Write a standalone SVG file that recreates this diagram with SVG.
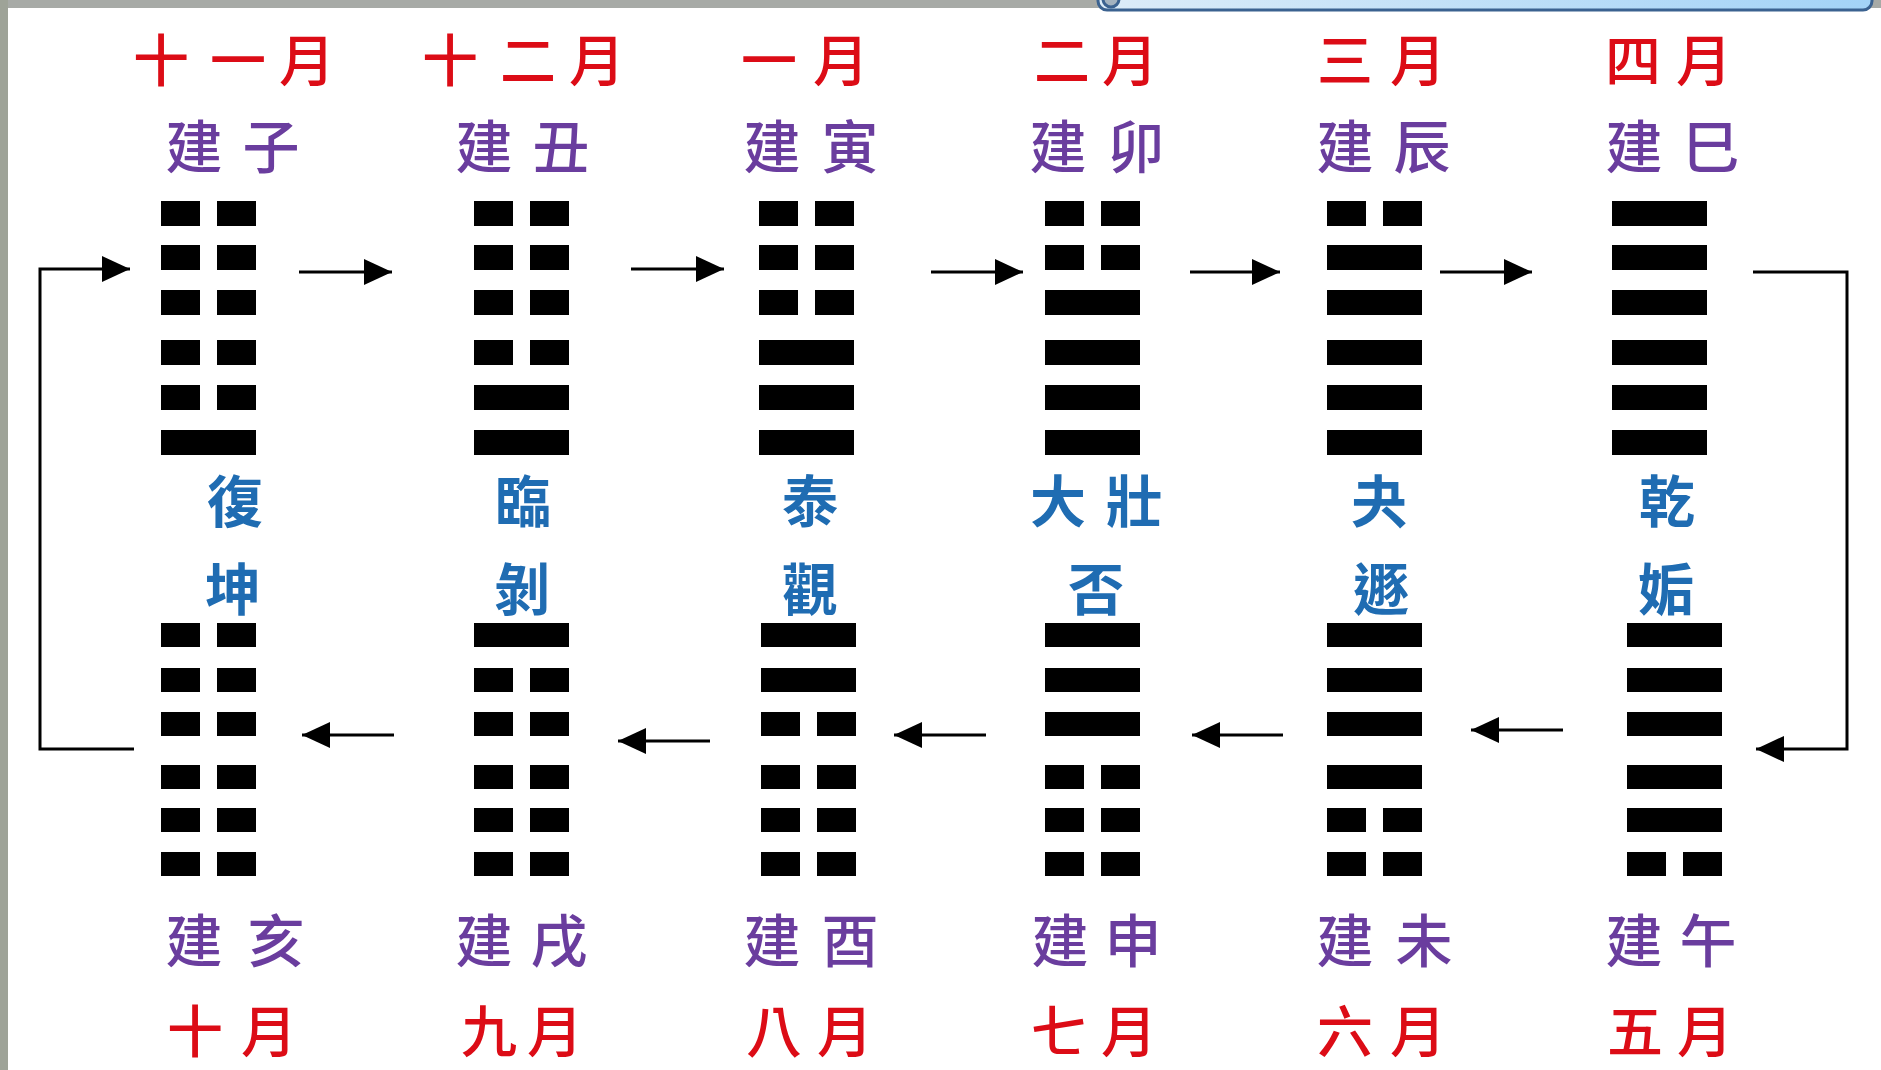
<svg xmlns="http://www.w3.org/2000/svg" width="1881" height="1070" viewBox="0 0 1881 1070">
  <defs>
    <style>
      .month { font-family: "Noto Sans CJK TC", "Noto Sans CJK SC", sans-serif; font-size: 56px; font-weight: 500; fill: #dc0c16; text-anchor: middle; }
      .jian { font-family: "Noto Sans CJK TC", "Noto Sans CJK SC", sans-serif; font-size: 57px; font-weight: 500; fill: #6a3d9e; text-anchor: middle; }
      .gua { font-family: "Noto Sans CJK TC", "Noto Sans CJK SC", sans-serif; font-size: 56px; font-weight: bold; fill: #1f6cb2; text-anchor: middle; }
      .bar { fill: #000; }
      .conn { fill: none; stroke: #000; stroke-width: 3; }
    </style>
    <linearGradient id="boxfill" x1="0" y1="0" x2="1" y2="0">
      <stop offset="0" stop-color="#dcecf8"/>
      <stop offset="1" stop-color="#a3d3f7"/>
    </linearGradient>
    <marker id="ah" markerUnits="userSpaceOnUse" markerWidth="30" markerHeight="28" refX="28" refY="13" orient="auto">
      <path d="M0,0 L28,13 L0,26 z" fill="#000"/>
    </marker>
    <g id="yangT"><rect class="bar" x="0" y="0" width="95" height="25"/></g>
    <g id="yinT"><rect class="bar" x="0" y="0" width="39" height="25"/><rect class="bar" x="56" y="0" width="39" height="25"/></g>
    <g id="yangB"><rect class="bar" x="0" y="0" width="95" height="24"/></g>
    <g id="yinB"><rect class="bar" x="0" y="0" width="39" height="24"/><rect class="bar" x="56" y="0" width="39" height="24"/></g>
  </defs>

  <!-- background -->
  <g id="background">
    <rect x="0" y="0" width="1881" height="1070" fill="#ffffff"/>
    <rect x="0" y="0" width="1881" height="8" fill="#a7aaa6"/>
    <rect x="0" y="0" width="8" height="1070" fill="#9ea398"/>
    <rect x="1098" y="-20" width="774" height="30" rx="9" fill="url(#boxfill)" stroke="#3b6290" stroke-width="3"/>
    <circle cx="1111" cy="-1" r="8" fill="#a3b2bf" stroke="#3b6290" stroke-width="3"/>
  </g>

  <!-- connectors -->
  <g id="connectors">
    <path class="conn" d="M134,749 H40 V269 H130" marker-end="url(#ah)"/>
    <line class="conn" x1="299" y1="272" x2="392" y2="272" marker-end="url(#ah)"/>
    <line class="conn" x1="631" y1="269" x2="724" y2="269" marker-end="url(#ah)"/>
    <line class="conn" x1="931" y1="272" x2="1023" y2="272" marker-end="url(#ah)"/>
    <line class="conn" x1="1190" y1="272" x2="1280" y2="272" marker-end="url(#ah)"/>
    <line class="conn" x1="1440" y1="272" x2="1532" y2="272" marker-end="url(#ah)"/>
    <path class="conn" d="M1753,272 H1847 V749 H1756" marker-end="url(#ah)"/>
    <line class="conn" x1="1563" y1="730" x2="1471" y2="730" marker-end="url(#ah)"/>
    <line class="conn" x1="1283" y1="735" x2="1192" y2="735" marker-end="url(#ah)"/>
    <line class="conn" x1="986" y1="735" x2="894" y2="735" marker-end="url(#ah)"/>
    <line class="conn" x1="710" y1="741" x2="618" y2="741" marker-end="url(#ah)"/>
    <line class="conn" x1="394" y1="735" x2="302" y2="735" marker-end="url(#ah)"/>
  </g>

  <!-- top row -->
  <g id="fu">
    <text class="month" x="161 238 307" y="81">十一月</text>
    <text class="jian" x="194 271" y="168">建子</text>
    <g transform="translate(161,0)">
      <use href="#yinT" y="201"/><use href="#yinT" y="245"/><use href="#yinT" y="290"/>
      <use href="#yinT" y="340"/><use href="#yinT" y="385"/><use href="#yangT" y="430"/>
    </g>
    <text class="gua" x="235" y="522">復</text>
  </g>
  <g id="lin">
    <text class="month" x="450 528 597" y="81">十二月</text>
    <text class="jian" x="484 561" y="168">建丑</text>
    <g transform="translate(474,0)">
      <use href="#yinT" y="201"/><use href="#yinT" y="245"/><use href="#yinT" y="290"/>
      <use href="#yinT" y="340"/><use href="#yangT" y="385"/><use href="#yangT" y="430"/>
    </g>
    <text class="gua" x="523" y="522">臨</text>
  </g>
  <g id="tai">
    <text class="month" x="769 841" y="81">一月</text>
    <text class="jian" x="772 850" y="168">建寅</text>
    <g transform="translate(759,0)">
      <use href="#yinT" y="201"/><use href="#yinT" y="245"/><use href="#yinT" y="290"/>
      <use href="#yangT" y="340"/><use href="#yangT" y="385"/><use href="#yangT" y="430"/>
    </g>
    <text class="gua" x="810" y="522">泰</text>
  </g>
  <g id="dazhuang">
    <text class="month" x="1062 1130" y="81">二月</text>
    <text class="jian" x="1058 1136" y="168">建卯</text>
    <g transform="translate(1045,0)">
      <use href="#yinT" y="201"/><use href="#yinT" y="245"/><use href="#yangT" y="290"/>
      <use href="#yangT" y="340"/><use href="#yangT" y="385"/><use href="#yangT" y="430"/>
    </g>
    <text class="gua" x="1058 1134" y="522">大壯</text>
  </g>
  <g id="guai">
    <text class="month" x="1345 1418" y="81">三月</text>
    <text class="jian" x="1345 1422" y="168">建辰</text>
    <g transform="translate(1327,0)">
      <use href="#yinT" y="201"/><use href="#yangT" y="245"/><use href="#yangT" y="290"/>
      <use href="#yangT" y="340"/><use href="#yangT" y="385"/><use href="#yangT" y="430"/>
    </g>
    <text class="gua" x="1379" y="522">夬</text>
  </g>
  <g id="qian">
    <text class="month" x="1633 1704" y="81">四月</text>
    <text class="jian" x="1634 1711" y="168">建巳</text>
    <g transform="translate(1612,0)">
      <use href="#yangT" y="201"/><use href="#yangT" y="245"/><use href="#yangT" y="290"/>
      <use href="#yangT" y="340"/><use href="#yangT" y="385"/><use href="#yangT" y="430"/>
    </g>
    <text class="gua" x="1667" y="522">乾</text>
  </g>

  <!-- bottom row -->
  <g id="kun">
    <text class="gua" x="233" y="610">坤</text>
    <g transform="translate(161,0)">
      <use href="#yinB" y="623"/><use href="#yinB" y="668"/><use href="#yinB" y="712"/>
      <use href="#yinB" y="765"/><use href="#yinB" y="808"/><use href="#yinB" y="852"/>
    </g>
    <text class="jian" x="194 276" y="962">建亥</text>
    <text class="month" x="195 269" y="1052">十月</text>
  </g>
  <g id="bo">
    <text class="gua" x="522" y="610">剝</text>
    <g transform="translate(474,0)">
      <use href="#yangB" y="623"/><use href="#yinB" y="668"/><use href="#yinB" y="712"/>
      <use href="#yinB" y="765"/><use href="#yinB" y="808"/><use href="#yinB" y="852"/>
    </g>
    <text class="jian" x="484 559" y="962">建戌</text>
    <text class="month" x="489 555" y="1052">九月</text>
  </g>
  <g id="guan">
    <text class="gua" x="810" y="610">觀</text>
    <g transform="translate(761,0)">
      <use href="#yangB" y="623"/><use href="#yangB" y="668"/><use href="#yinB" y="712"/>
      <use href="#yinB" y="765"/><use href="#yinB" y="808"/><use href="#yinB" y="852"/>
    </g>
    <text class="jian" x="772 850" y="962">建酉</text>
    <text class="month" x="774 845" y="1052">八月</text>
  </g>
  <g id="pi">
    <text class="gua" x="1096" y="610">否</text>
    <g transform="translate(1045,0)">
      <use href="#yangB" y="623"/><use href="#yangB" y="668"/><use href="#yangB" y="712"/>
      <use href="#yinB" y="765"/><use href="#yinB" y="808"/><use href="#yinB" y="852"/>
    </g>
    <text class="jian" x="1060 1133" y="962">建申</text>
    <text class="month" x="1059 1129" y="1052">七月</text>
  </g>
  <g id="dun">
    <text class="gua" x="1381" y="610">遯</text>
    <g transform="translate(1327,0)">
      <use href="#yangB" y="623"/><use href="#yangB" y="668"/><use href="#yangB" y="712"/>
      <use href="#yangB" y="765"/><use href="#yinB" y="808"/><use href="#yinB" y="852"/>
    </g>
    <text class="jian" x="1345 1424" y="962">建未</text>
    <text class="month" x="1345 1418" y="1052">六月</text>
  </g>
  <g id="gou">
    <text class="gua" x="1666" y="610">姤</text>
    <g transform="translate(1627,0)">
      <use href="#yangB" y="623"/><use href="#yangB" y="668"/><use href="#yangB" y="712"/>
      <use href="#yangB" y="765"/><use href="#yangB" y="808"/><use href="#yinB" y="852"/>
    </g>
    <text class="jian" x="1634 1708" y="962">建午</text>
    <text class="month" x="1635 1705" y="1052">五月</text>
  </g>
</svg>
